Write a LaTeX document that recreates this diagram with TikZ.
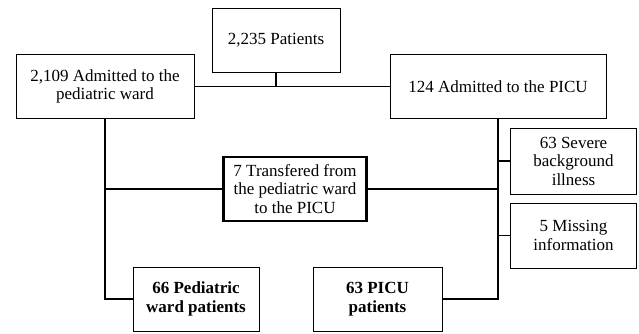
\documentclass[tikz,border=0pt]{standalone}
\usepackage{fontspec}
\setmainfont{Liberation Serif}
\usepackage{tikz}
\usetikzlibrary{positioning,calc}

\begin{document}
\begin{tikzpicture}[x=1pt, y=-1pt,
    every node/.style={font=\fontsize{17}{18.5}\selectfont},
    box/.style={draw, line width=0.9pt, align=center, inner sep=0pt},
    thickbox/.style={box, line width=2.2pt},
    link/.style={line width=1.2pt}]
    \useasboundingbox (0,0) rectangle (639,333);

    \node[box, minimum width=128, minimum height=64] (patients) at (276,40) {2,235 Patients};
    \node[box, minimum width=178, minimum height=64] (ward) at (105,86.5) {2,109 Admitted to the\\pediatric ward};
    \node[box, minimum width=216, minimum height=64] (picu) at (498,86.5) {124 Admitted to the PICU};
    \node[thickbox, minimum width=143, minimum height=64] (transfer) at (295,189) {7 Transfered from\\the pediatric ward\\to the PICU};
    \node[box, minimum width=126, minimum height=66] (severe) at (573.5,161) {63 Severe\\background\\illness};
    \node[box, minimum width=126, minimum height=65] (missing) at (573.5,235.5) {5 Missing\\information};
    \node[box, minimum width=126, minimum height=64] (wardpat) at (196,299) {\bfseries 66 Pediatric\\\bfseries ward patients};
    \node[box, minimum width=129, minimum height=64] (picupat) at (377.5,299) {\bfseries 63 PICU\\\bfseries patients};

    \draw[link] (ward.east) -- (picu.west);
    \draw[link] (patients.south) -- (patients.south |- ward.east);
    \draw[link] (ward.south) |- (wardpat.west);
    \draw[link] (ward.south |- transfer.west) -- (transfer.west);
    \draw[link] (transfer.east) -- (transfer.east -| picu.south);
    \draw[link] (picu.south) |- (picupat.east);
    \draw[link] (picu.south |- severe.west) -- (severe.west);
    \draw[link] (picu.south |- missing.west) -- (missing.west);
\end{tikzpicture}
\end{document}
